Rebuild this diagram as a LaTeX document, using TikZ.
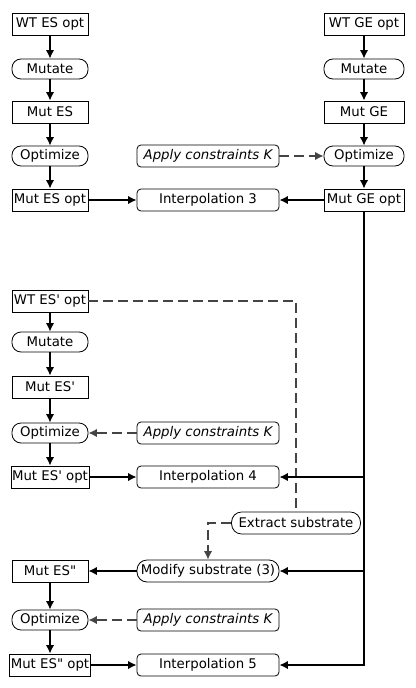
\documentclass[tikz,border=0pt]{standalone}
\usepackage{fontspec}
\setmainfont{DejaVu Sans}
\usetikzlibrary{arrows.meta}
\definecolor{dashgray}{RGB}{68,68,68}
\newcommand{\sq}{\textquotesingle}
\newcommand{\dq}{\textquotedbl}
\begin{document}
\begin{tikzpicture}[x=1pt,y=-1pt,
  font=\fontsize{13.3}{15}\selectfont,
  base/.style={draw=black, line width=0.8pt, minimum height=22pt, inner xsep=1pt, inner ysep=0pt, anchor=center},
  data/.style={base, rectangle, minimum width=76pt},
  gdata/.style={base, rectangle, minimum width=80pt},
  proc/.style={base, rounded corners=9pt, minimum width=76pt, minimum height=20pt},
  gproc/.style={proc, minimum width=80pt},
  mid/.style={base, rounded corners=4pt, minimum width=142pt},
  pill/.style={base, rounded corners=10pt, inner xsep=7pt},
  flow/.style={line width=2.4pt, -{Latex[length=8.5pt,width=8.5pt]}},
  dsh/.style={line width=2.4pt, draw=dashgray, dash pattern=on 10pt off 5pt},
  dsharrow/.style={dsh, -{Latex[length=8.5pt,width=8.5pt]}, dashgray}
]
\useasboundingbox (0,0) rectangle (415,688);

% top left column
\node[data] (WTES) at (50,24) {WT ES opt};
\node[proc] (Mut1) at (50,69) {Mutate};
\node[data] (MutES) at (50,112) {Mut ES};
\node[proc] (Opt1) at (50,156) {Optimize};
\node[data] (MutESopt) at (50,200) {Mut ES opt};

% top right column
\node[gdata] (WTGE) at (364,24) {WT GE opt};
\node[gproc] (Mut2) at (364,69) {Mutate};
\node[gdata] (MutGE) at (364,112) {Mut GE};
\node[gproc] (Opt2) at (364,156) {Optimize};
\node[gdata] (MutGEopt) at (364,200) {Mut GE opt};

% top middle
\node[mid] (Apply1) at (208,156) {\itshape Apply constraints K};
\node[mid] (Interp3) at (208,200) {Interpolation 3};

% middle left column
\node[data] (WTESp) at (50,301) {WT ES\sq{} opt};
\node[proc] (Mut3) at (50,342) {Mutate};
\node[data] (MutESp) at (50,387) {Mut ES\sq};
\node[proc] (Opt3) at (50,433) {Optimize};
\node[data] (MutESpopt) at (50,477) {Mut ES\sq{} opt};

\node[mid] (Apply2) at (208,433) {\itshape Apply constraints K};
\node[mid] (Interp4) at (208,477) {Interpolation 4};

\node[pill] (Extract) at (296,523) {Extract substrate};

% bottom
\node[data] (MutESpp) at (50,571) {Mut ES\dq};
\node[proc] (Opt4) at (50,620) {Optimize};
\node[data] (MutESppopt) at (50,665) {Mut ES\dq{} opt};

\node[mid, rounded corners=10pt] (Modify) at (208,571) {Modify substrate (3)};
\node[mid] (Apply3) at (208,620) {\itshape Apply constraints K};
\node[mid] (Interp5) at (208,665) {Interpolation 5};

% vertical flows
\draw[flow] (WTES) -- (Mut1);
\draw[flow] (Mut1) -- (MutES);
\draw[flow] (MutES) -- (Opt1);
\draw[flow] (Opt1) -- (MutESopt);

\draw[flow] (WTGE) -- (Mut2);
\draw[flow] (Mut2) -- (MutGE);
\draw[flow] (MutGE) -- (Opt2);
\draw[flow] (Opt2) -- (MutGEopt);

\draw[flow] (WTESp) -- (Mut3);
\draw[flow] (Mut3) -- (MutESp);
\draw[flow] (MutESp) -- (Opt3);
\draw[flow] (Opt3) -- (MutESpopt);

\draw[flow] (MutESpp) -- (Opt4);
\draw[flow] (Opt4) -- (MutESppopt);

% horizontal flows
\draw[flow] (MutESopt) -- (Interp3);
\draw[flow] (MutGEopt) -- (Interp3);
\draw[flow] (MutESpopt) -- (Interp4);
\draw[flow] (MutESppopt) -- (Interp5);
\draw[flow] (Modify) -- (MutESpp);

% constraints
\draw[dsharrow] (Apply1) -- (Opt2);
\draw[dsharrow] (Apply2) -- (Opt3);
\draw[dsharrow] (Apply3) -- (Opt4);

% dashed substrate path
\draw[dsh] (WTESp.east) -| (Extract.north);
\draw[dsharrow] (Extract.west) -| (Modify.north);

% bus from Mut GE opt
\draw[flow] (MutGEopt.south) |- (Interp5.east);
\draw[flow] (MutGEopt.south |- Interp4.east) -- (Interp4.east);
\draw[flow] (MutGEopt.south |- Modify.east) -- (Modify.east);
\end{tikzpicture}
\end{document}
